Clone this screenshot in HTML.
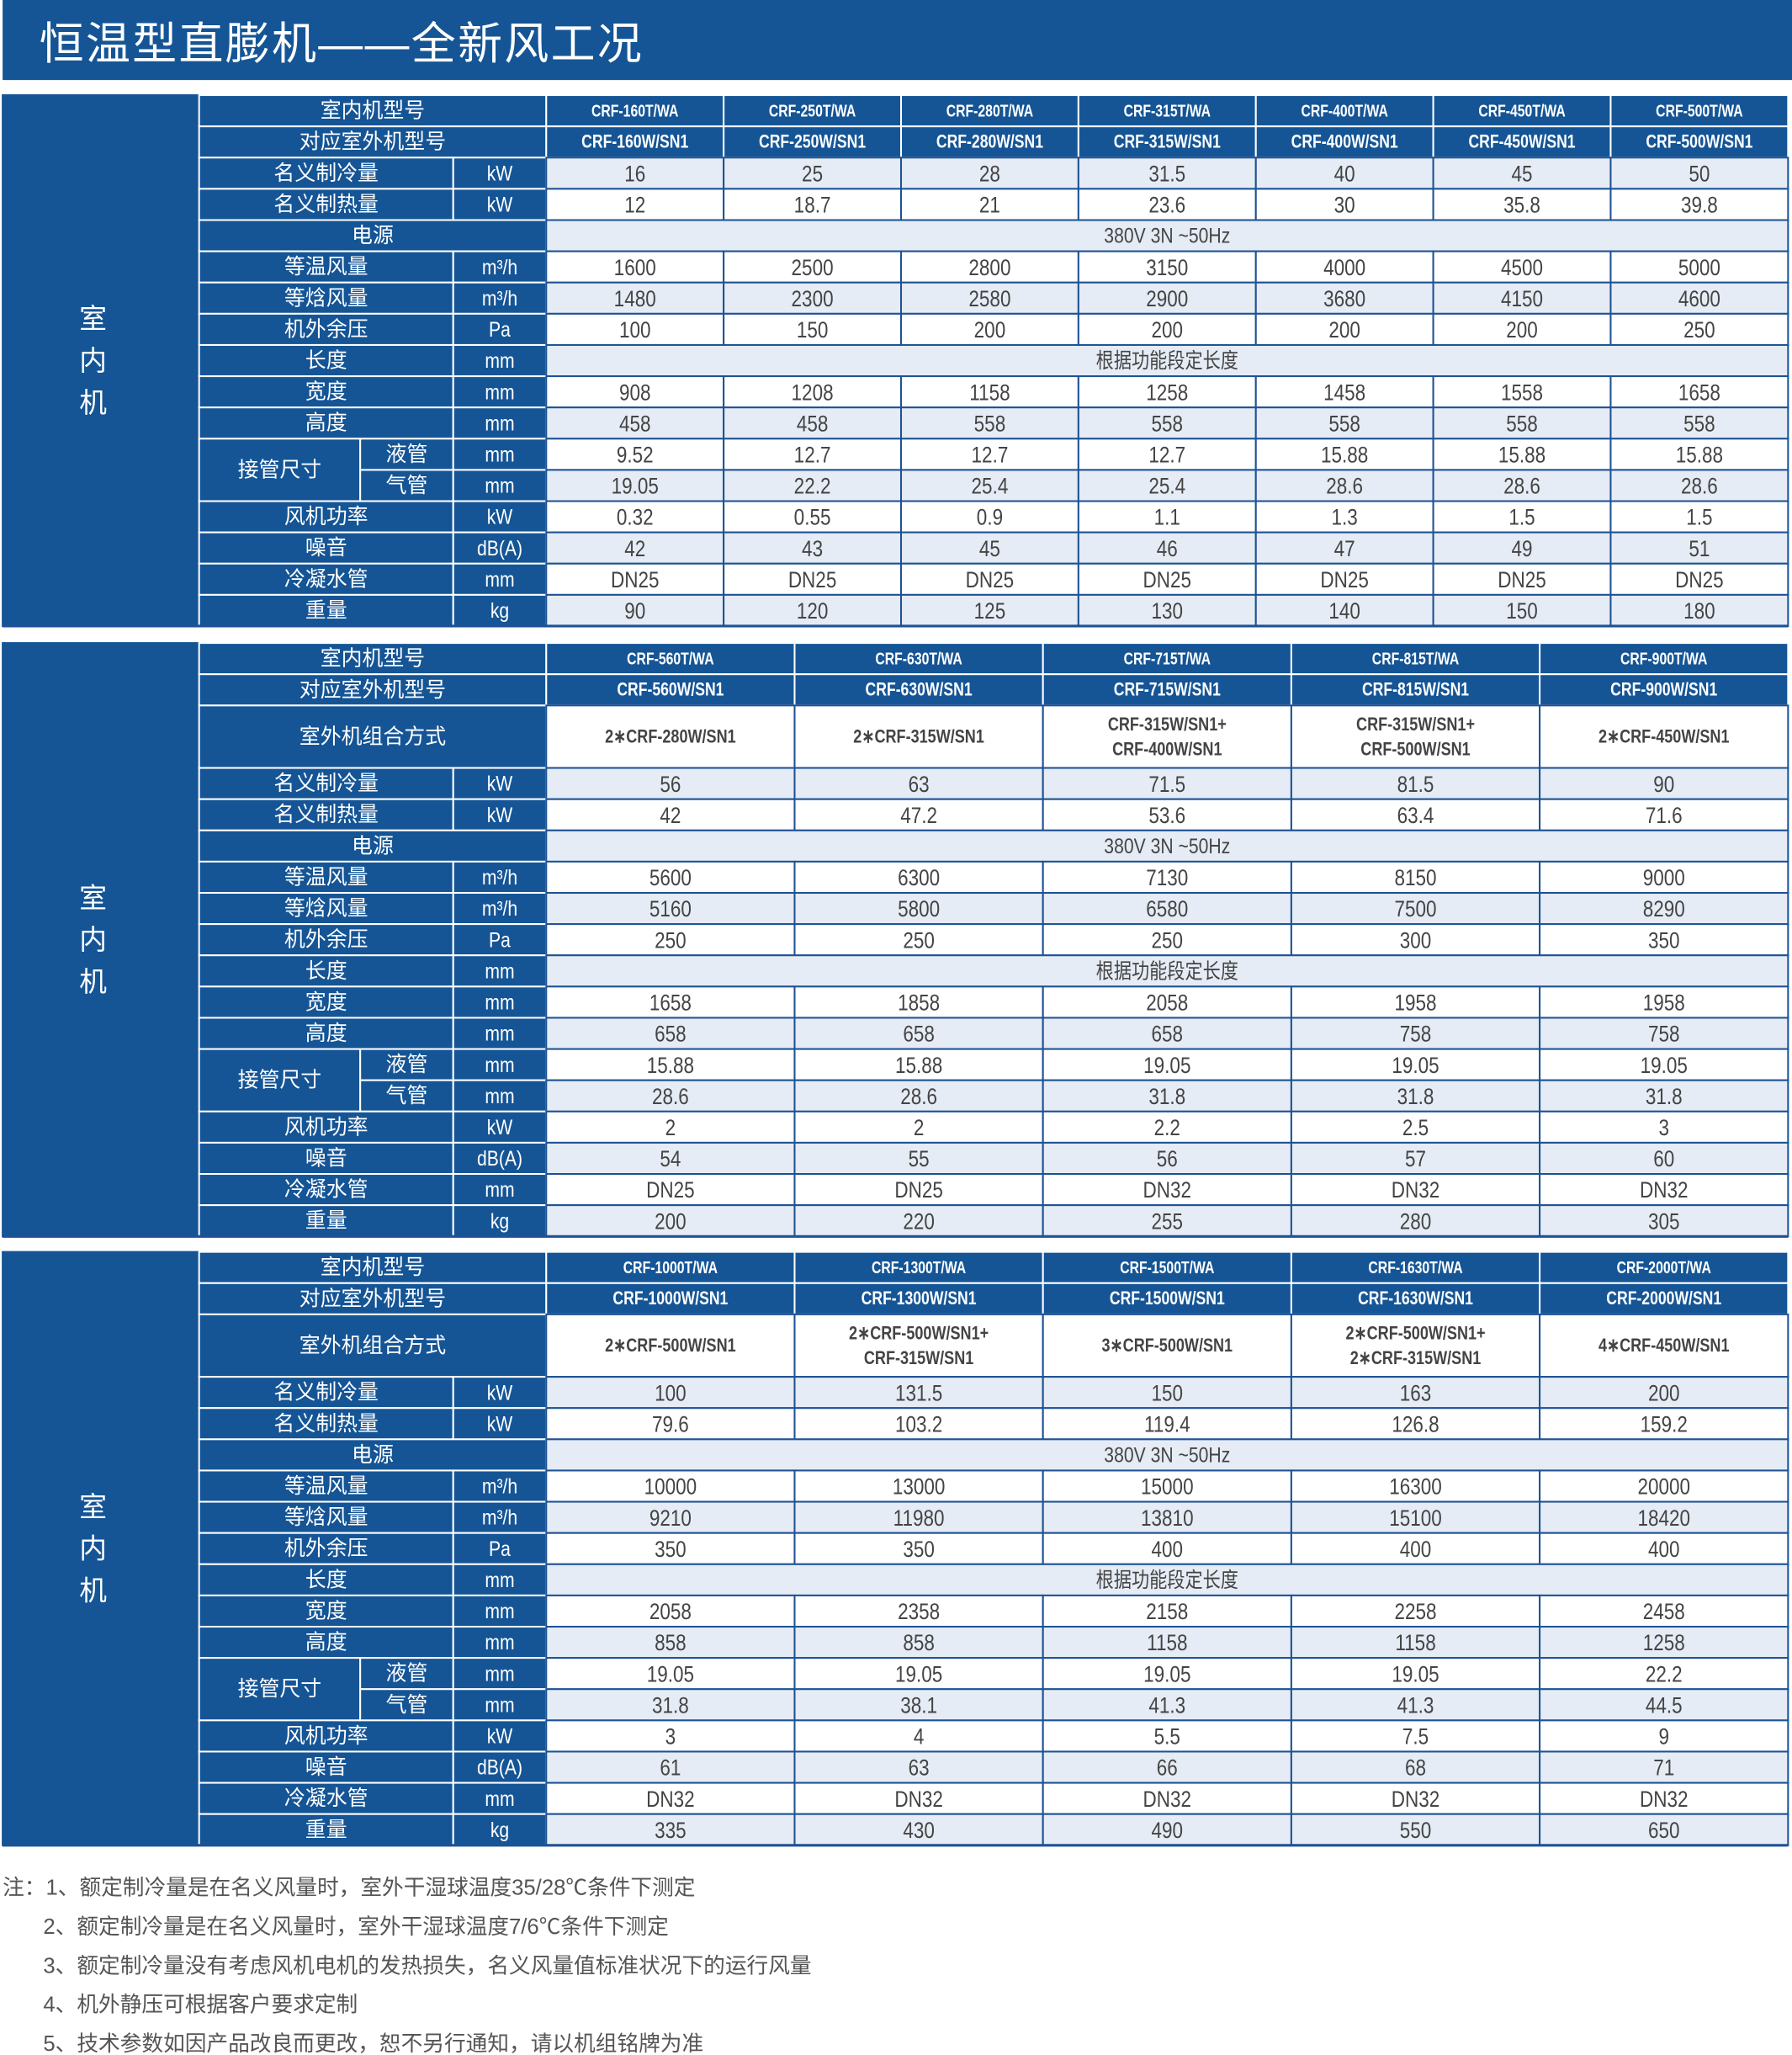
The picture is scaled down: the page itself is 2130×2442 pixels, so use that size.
<!DOCTYPE html>
<html><head><meta charset="utf-8">
<style>
html,body{margin:0;padding:0;background:#fff;}
svg{display:block;}
text{font-family:"Liberation Sans","Noto Sans CJK SC",sans-serif;}
</style></head>
<body>
<svg id="chart" width="2130" height="2442" viewBox="0 0 1368 1566" preserveAspectRatio="none" xmlns="http://www.w3.org/2000/svg"></svg>
<script>
// ---- data: table 1 ----
const t1Models = ["CRF-160T/WA","CRF-250T/WA","CRF-280T/WA","CRF-315T/WA","CRF-400T/WA","CRF-450T/WA","CRF-500T/WA"];
const t1Outdoor = ["CRF-160W/SN1","CRF-250W/SN1","CRF-280W/SN1","CRF-315W/SN1","CRF-400W/SN1","CRF-450W/SN1","CRF-500W/SN1"];
const t1Cooling = ["16","25","28","31.5","40","45","50"];
const t1Heating = ["12","18.7","21","23.6","30","35.8","39.8"];
const t1AirIso = ["1600","2500","2800","3150","4000","4500","5000"];
const t1AirEnth = ["1480","2300","2580","2900","3680","4150","4600"];
const t1Pressure = ["100","150","200","200","200","200","250"];
const t1Width = ["908","1208","1158","1258","1458","1558","1658"];
const t1Height = ["458","458","558","558","558","558","558"];
const t1Liquid = ["9.52","12.7","12.7","12.7","15.88","15.88","15.88"];
const t1Gas = ["19.05","22.2","25.4","25.4","28.6","28.6","28.6"];
const t1Fan = ["0.32","0.55","0.9","1.1","1.3","1.5","1.5"];
const t1Noise = ["42","43","45","46","47","49","51"];
const t1Drain = ["DN25","DN25","DN25","DN25","DN25","DN25","DN25"];
const t1Weight = ["90","120","125","130","140","150","180"];
// ---- data: table 2 ----
const t2Models = ["CRF-560T/WA","CRF-630T/WA","CRF-715T/WA","CRF-815T/WA","CRF-900T/WA"];
const t2Outdoor = ["CRF-560W/SN1","CRF-630W/SN1","CRF-715W/SN1","CRF-815W/SN1","CRF-900W/SN1"];
const t2Combo = ["2∗CRF-280W/SN1","2∗CRF-315W/SN1","CRF-315W/SN1+|CRF-400W/SN1","CRF-315W/SN1+|CRF-500W/SN1","2∗CRF-450W/SN1"];
const t2Cooling = ["56","63","71.5","81.5","90"];
const t2Heating = ["42","47.2","53.6","63.4","71.6"];
const t2AirIso = ["5600","6300","7130","8150","9000"];
const t2AirEnth = ["5160","5800","6580","7500","8290"];
const t2Pressure = ["250","250","250","300","350"];
const t2Width = ["1658","1858","2058","1958","1958"];
const t2Height = ["658","658","658","758","758"];
const t2Liquid = ["15.88","15.88","19.05","19.05","19.05"];
const t2Gas = ["28.6","28.6","31.8","31.8","31.8"];
const t2Fan = ["2","2","2.2","2.5","3"];
const t2Noise = ["54","55","56","57","60"];
const t2Drain = ["DN25","DN25","DN32","DN32","DN32"];
const t2Weight = ["200","220","255","280","305"];
// ---- data: table 3 ----
const t3Models = ["CRF-1000T/WA","CRF-1300T/WA","CRF-1500T/WA","CRF-1630T/WA","CRF-2000T/WA"];
const t3Outdoor = ["CRF-1000W/SN1","CRF-1300W/SN1","CRF-1500W/SN1","CRF-1630W/SN1","CRF-2000W/SN1"];
const t3Combo = ["2∗CRF-500W/SN1","2∗CRF-500W/SN1+|CRF-315W/SN1","3∗CRF-500W/SN1","2∗CRF-500W/SN1+|2∗CRF-315W/SN1","4∗CRF-450W/SN1"];
const t3Cooling = ["100","131.5","150","163","200"];
const t3Heating = ["79.6","103.2","119.4","126.8","159.2"];
const t3AirIso = ["10000","13000","15000","16300","20000"];
const t3AirEnth = ["9210","11980","13810","15100","18420"];
const t3Pressure = ["350","350","400","400","400"];
const t3Width = ["2058","2358","2158","2258","2458"];
const t3Height = ["858","858","1158","1158","1258"];
const t3Liquid = ["19.05","19.05","19.05","19.05","22.2"];
const t3Gas = ["31.8","38.1","41.3","41.3","44.5"];
const t3Fan = ["3","4","5.5","7.5","9"];
const t3Noise = ["61","63","66","68","71"];
const t3Drain = ["DN32","DN32","DN32","DN32","DN32"];
const t3Weight = ["335","430","490","550","650"];
const powerText = "380V 3N ~50Hz";
const lengthText = "根据功能段定长度";
const notes = ["注：1、额定制冷量是在名义风量时，室外干湿球温度35/28℃条件下测定","2、额定制冷量是在名义风量时，室外干湿球温度7/6℃条件下测定","3、额定制冷量没有考虑风机电机的发热损失，名义风量值标准状况下的运行风量","4、机外静压可根据客户要求定制","5、技术参数如因产品改良而更改，恕不另行通知，请以机组铭牌为准"];

const NS="http://www.w3.org/2000/svg";
const svg=document.getElementById('chart');
const BLUE="#155596", LIGHT="#e5ecf5", LINE="#1d5294";
const U=23.8, X0=2, XL=152, XU=346, XD=417, XR=1365, XS=275;
function el(tag,attrs,parent){const e=document.createElementNS(NS,tag);for(const k in attrs)e.setAttribute(k,attrs[k]);(parent||svg).appendChild(e);return e;}
function rect(x,y,w,h,fill,stroke,g){return el('rect',{x:x,y:y,width:w,height:h,fill:fill,stroke:stroke,'stroke-width':1.3},g);}
function txt(x,y,s,size,fill,g,narrow,weight){
  const t=el('text',{x:x,y:y,'font-size':size,fill:fill,'text-anchor':'middle','dominant-baseline':'central'},g);
  if(narrow){t.setAttribute('x',0);t.setAttribute('y',0);t.setAttribute('transform','translate('+x+','+y+') scale('+narrow+',1)');}
  if(weight)t.setAttribute('font-weight',weight);
  t.textContent=s;return t;}

// title
const tb=rect(2,0,1366,61,BLUE,'none');


const tt=el('text',{x:30,y:45,'font-size':34,fill:'#fff','letter-spacing':'1.5'});
tt.textContent="恒温型直膨机——全新风工况";



function table(y0,idx,models,outdoor,combo,rows){
  const g=el('g',{});
  
  
  const n=models.length, cw=(XR-XD)/n;
  const totalU=2+(combo?2:0)+rows.length;
  const H=totalU*U;
  rect(X0,y0,XL-X0,H,BLUE,BLUE,g);
  ['室','内','机'].forEach((c,i)=>{const t=txt(71,y0+H/2-32+i*32,c,21,'#fff',g);});
  let y=y0;
  function headerRow(label,vals,size){
    rect(XL,y,XD-XL,U,BLUE,'#fff',g);
    txt((XL+XD)/2,y+U/2,label,16,'#fff',g);
    vals.forEach((v,i)=>{rect(XD+i*cw,y,cw,U,BLUE,'#fff',g);
      const t=txt(XD+i*cw+cw/2,y+U/2,v,size,'#fff',g,0.78,'bold');
      
      });
    y+=U;
  }
  headerRow('室内机型号',models,13);
  headerRow('对应室外机型号',outdoor,14.5);
  if(combo){
    rect(XL,y,XD-XL,2*U,BLUE,'#fff',g);
    txt((XL+XD)/2,y+U,'室外机组合方式',16,'#fff',g);
    combo.forEach((v,i)=>{rect(XD+i*cw,y,cw,2*U,'#fff',LINE,g);
      const parts=v.split('|');
      parts.forEach((p,j)=>{const t=txt(XD+i*cw+cw/2,y+U+(j-(parts.length-1)/2)*19,p,14.5,'#444',g,0.8,'bold');
        
        });});
    y+=2*U;
  }
  rows.forEach((r,ri)=>{
    const fill=ri%2===0?LIGHT:'#fff';
    if(r.sub){
      if(r.sub==='液管'){rect(XL,y,XS-XL,2*U,BLUE,'#fff',g);txt((XL+XS)/2,y+U,'接管尺寸',16,'#fff',g);}
      rect(XS,y,XU-XS,U,BLUE,'#fff',g);txt((XS+XU)/2,y+U/2,r.sub,16,'#fff',g);
    } else if(r.unit!==null){
      rect(XL,y,XU-XL,U,BLUE,'#fff',g);txt((XL+XU)/2,y+U/2,r.label,16,'#fff',g);
    } else {
      rect(XL,y,XD-XL,U,BLUE,'#fff',g);txt((XL+XD)/2,y+U/2,r.label,16,'#fff',g);
    }
    if(r.unit!==null){rect(XU,y,XD-XU,U,BLUE,'#fff',g);txt((XU+XD)/2,y+U/2,r.unit,16,'#fff',g,0.85);}
    if(typeof r.vals==='string'){
      rect(XD,y,XR-XD,U,fill,LINE,g);
      const t=txt((XD+XR)/2,y+U/2,r.vals,16,'#444',g,0.85);
      
      
    } else {
      r.vals.forEach((v,i)=>{rect(XD+i*cw,y,cw,U,fill,LINE,g);
        const t=txt(XD+i*cw+cw/2,y+U/2+1,v,17,'#444',g,0.85);
        
        });
    }
    y+=U;
  });
  el('line',{x1:X0,y1:y0+H,x2:XR,y2:y0+H,stroke:LINE,'stroke-width':2},g);
}
function rowsOf(c,h,ai,ae,p,w,ht,l,ga,f,no,d,we){
  return [{label:'名义制冷量',unit:'kW',vals:c},{label:'名义制热量',unit:'kW',vals:h},{label:'电源',unit:null,vals:powerText},
  {label:'等温风量',unit:'m³/h',vals:ai},{label:'等焓风量',unit:'m³/h',vals:ae},{label:'机外余压',unit:'Pa',vals:p},
  {label:'长度',unit:'mm',vals:lengthText},{label:'宽度',unit:'mm',vals:w},{label:'高度',unit:'mm',vals:ht},
  {sub:'液管',unit:'mm',vals:l},{sub:'气管',unit:'mm',vals:ga},{label:'风机功率',unit:'kW',vals:f},
  {label:'噪音',unit:'dB(A)',vals:no},{label:'冷凝水管',unit:'mm',vals:d},{label:'重量',unit:'kg',vals:we}];
}
table(72.5,1,t1Models,t1Outdoor,null,rowsOf(t1Cooling,t1Heating,t1AirIso,t1AirEnth,t1Pressure,t1Width,t1Height,t1Liquid,t1Gas,t1Fan,t1Noise,t1Drain,t1Weight));
table(490,2,t2Models,t2Outdoor,t2Combo,rowsOf(t2Cooling,t2Heating,t2AirIso,t2AirEnth,t2Pressure,t2Width,t2Height,t2Liquid,t2Gas,t2Fan,t2Noise,t2Drain,t2Weight));
table(954,3,t3Models,t3Outdoor,t3Combo,rowsOf(t3Cooling,t3Heating,t3AirIso,t3AirEnth,t3Pressure,t3Width,t3Height,t3Liquid,t3Gas,t3Fan,t3Noise,t3Drain,t3Weight));

notes.forEach((s,i)=>{
  const t=el('text',{x:i===0?2:33,y:1444+i*29.7,'font-size':16.5,fill:'#555'});
  t.textContent=s;
  
  
});
</script>
</body></html>
